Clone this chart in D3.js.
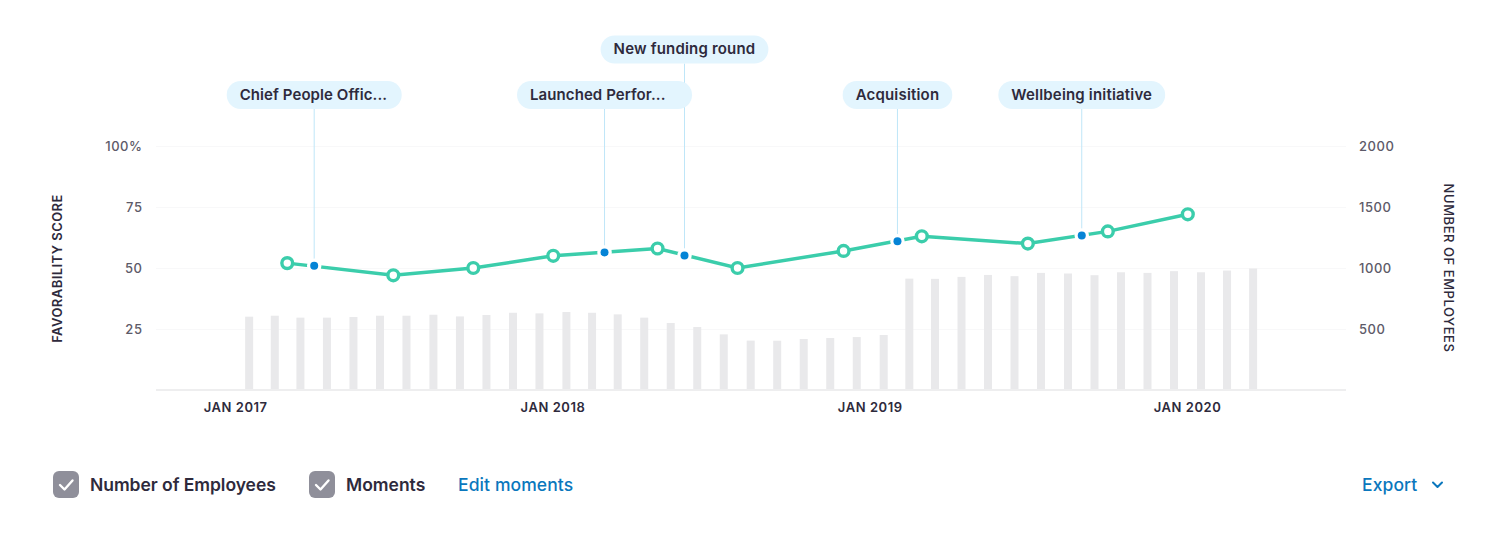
<!DOCTYPE html>
<html>
<head>
<meta charset="utf-8">
<script src="https://cdn.jsdelivr.net/npm/d3@7/dist/d3.min.js"></script>
<style>
html,body{margin:0;padding:0;background:#fff;overflow:hidden}
svg{display:block;font-family:Inter,sans-serif}
</style>
</head>
<body>
<svg id="chart" width="1511" height="538"></svg>
<script>
// ---- data ----
const barStart = "2017-01-01";
const employees = [601,609,593,593,598,609,609,617,603,615,633,628,639,633,620,593,549,516,456,405,
  404,418,426,434,451,913,911,927,943,933,960,955,941,965,960,974,965,979,996];
const scoreDates = ["2017-03-01","2017-07-01","2017-10-01","2018-01-01","2018-05-01","2018-08-01",
  "2018-12-01","2019-03-01","2019-07-01","2019-10-01","2020-01-01"];
const scoreValues = [52,47,50,55,58,50,57,63,60,65,72];
const momentDates = ["2017-04-01","2018-03-01","2018-06-01","2019-02-01","2019-09-01"];
const momentValues = [50.9,56.4,55.1,61,63.3];
const momentLabels = ["Chief People Offic...","Launched Perfor...","New funding round","Acquisition","Wellbeing initiative"];
const momentRows = [0,0,1,0,0];
const leftTicks = [25,50,75,100];
const rightTicks = [500,1000,1500,2000];
const xTickDates = ["2017-01-01","2018-01-01","2019-01-01","2020-01-01"];
const xDomain = ["2016-10-01","2020-07-01"];

// ---- helpers / scales ----
const parse = d3.utcParse("%Y-%m-%d");
const svg = d3.select("#chart");
const x = d3.scaleUtc().domain(xDomain.map(parse)).range([156,1346]);
const yL = d3.scaleLinear().domain([0,100]).range([390,146]);
const yR = d3.scaleLinear().domain([0,2000]).range([390,146]);
const INK="#2e2a3c", MUTED="#5d5a68", TEAL="#3bcdab", BLUE="#0584d6", LINK="#0a77bd";

// grid
svg.append("g").selectAll("line").data(leftTicks).join("line")
  .attr("x1",156).attr("x2",1346).attr("y1",d=>yL(d)+.5).attr("y2",d=>yL(d)+.5)
  .attr("stroke","#f8f8f9");

// bars
const months = employees.map((v,i)=>d3.utcMonth.offset(parse(barStart),i));
svg.append("g").selectAll("rect").data(employees).join("rect")
  .attr("x",(d,i)=>(x(months[i])+x(d3.utcMonth.offset(months[i],1)))/2-4.3)
  .attr("width",8)
  .attr("y",d=>yR(d))
  .attr("height",d=>yR(0)-yR(d))
  .attr("fill","#e9e9eb");

// baseline
svg.append("line").attr("x1",156).attr("x2",1346).attr("y1",390).attr("y2",390)
  .attr("stroke","#eeeeef").attr("stroke-width",2);

// axes
const styleAxis = (g,anchor,fill,w,size)=>{
  g.select(".domain").remove();
  g.selectAll(".tick line").remove();
  g.selectAll("text").attr("fill",fill).attr("font-size",size).attr("font-weight",w)
   .attr("font-family","Inter,sans-serif").attr("text-anchor",anchor).style("letter-spacing","0.55px");
};
svg.append("g").attr("transform","translate(142.5,0.6)")
  .call(d3.axisLeft(yL).tickValues(leftTicks).tickSize(0).tickPadding(0).tickFormat(d=>d===100?"100%":d))
  .call(styleAxis,"end",MUTED,500,13);
svg.append("g").attr("transform","translate(1359,0.6)")
  .call(d3.axisRight(yR).tickValues(rightTicks).tickSize(0).tickPadding(0).tickFormat(d3.format("d")))
  .call(styleAxis,"start",MUTED,500,13);
const xAxisG = svg.append("g").attr("transform","translate(-0.8,403)")
  .call(d3.axisBottom(x).tickValues(xTickDates.map(parse)).tickSize(0).tickPadding(0).tickFormat(d3.utcFormat("JAN %Y")))
  .call(styleAxis,"middle",INK,600,13);

// axis titles
svg.append("text").attr("transform","translate(62,268.5) rotate(-90)").attr("text-anchor","middle")
  .attr("font-size",13).attr("font-weight",600).attr("fill",INK).style("letter-spacing","0.45px").text("FAVORABILITY SCORE");
svg.append("text").attr("transform","translate(1443.5,268) rotate(90)").attr("text-anchor","middle")
  .attr("font-size",13).attr("font-weight",500).attr("fill",INK).style("letter-spacing","0.55px").text("NUMBER OF EMPLOYEES");

// moment stems
const rowY = r=> r? 35.5 : 81;
const PH = 28;
svg.append("g").selectAll("line").data(momentDates).join("line")
  .attr("x1",d=>x(parse(d))).attr("x2",d=>x(parse(d)))
  .attr("y1",(d,i)=>rowY(momentRows[i])+PH)
  .attr("y2",(d,i)=>yL(momentValues[i]))
  .attr("stroke","#bfe6f8").attr("stroke-width",1);

// score line
const line = d3.line().x((d,i)=>x(parse(scoreDates[i]))).y(d=>yL(d));
svg.append("path").datum(scoreValues).attr("d",line).attr("fill","none").attr("stroke",TEAL).attr("stroke-width",3.5);

// moment dots
const dots = svg.append("g");
dots.selectAll("circle").data(momentDates).join("circle")
  .attr("cx",d=>x(parse(d))).attr("cy",(d,i)=>yL(momentValues[i])).attr("r",4)
  .attr("fill",BLUE).attr("stroke","#fff").attr("stroke-width",6.5).attr("paint-order","stroke");

// score points
svg.append("g").selectAll("circle").data(scoreValues).join("circle")
  .attr("cx",(d,i)=>x(parse(scoreDates[i]))).attr("cy",d=>yL(d)).attr("r",5.4)
  .attr("fill","#fff").attr("stroke",TEAL).attr("stroke-width",3.4);

// moment pills
const pills = svg.append("g").selectAll("g").data(momentLabels).join("g");
pills.each(function(label,i){
  const g = d3.select(this);
  const cx = x(parse(momentDates[i]));
  const y0 = rowY(momentRows[i]);
  const rect = g.append("rect").attr("y",y0).attr("height",PH).attr("rx",14).attr("fill","#e3f5fe");
  const truncated = label.endsWith("...");
  const t = g.append("text").attr("y",y0+PH/2+4.9).attr("font-size",15).attr("font-weight",600)
    .style("letter-spacing",truncated?"0.08px":"0.18px").attr("fill",INK).text(label);
  const tw = t.node().getComputedTextLength();
  const w = truncated ? 175 : tw+26;
  rect.attr("x",cx-w/2).attr("width",w);
  t.attr("x",cx-w/2+13);
});

// legend
function checkbox(px){
  svg.append("rect").attr("x",px).attr("y",471).attr("width",26).attr("height",27).attr("rx",6).attr("fill","#8f8f9a");
  svg.append("path").attr("d",`M${px+7} ${485}l4.5 4.5l8 -9`).attr("fill","none").attr("stroke","#fff")
    .attr("stroke-width",2.4).attr("stroke-linecap","round").attr("stroke-linejoin","round");
}
const legend = (tx,txt,fill,w,ls)=>svg.append("text").attr("x",tx).attr("y",490.5).attr("font-size",17.5)
  .attr("font-weight",w).attr("fill",fill).style("letter-spacing",ls+"px").text(txt);
checkbox(53); legend(90,"Number of Employees",INK,600,-0.05);
checkbox(309); legend(346,"Moments",INK,600,0);
legend(458,"Edit moments",LINK,500,0.1);
legend(1362,"Export",LINK,500,0.1);
svg.append("path").attr("d","M1433 482.5l4.5 4.5l4.5 -4.5").attr("fill","none").attr("stroke",LINK)
  .attr("stroke-width",2).attr("stroke-linecap","round").attr("stroke-linejoin","round");
</script>
</body>
</html>
